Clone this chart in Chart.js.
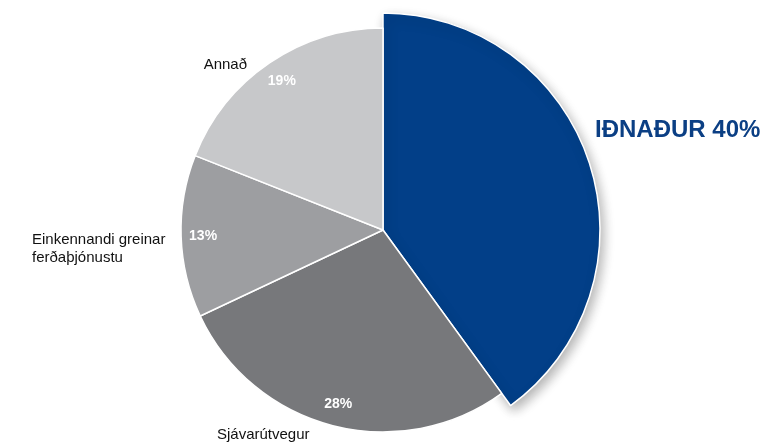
<!DOCTYPE html>
<html>
<head>
<meta charset="utf-8">
<script src="https://cdn.jsdelivr.net/npm/chart.js@4.4.1/dist/chart.umd.min.js"></script>
<style>
  html, body { margin: 0; padding: 0; background: #fff; }
  #wrap { width: 779px; height: 443px; }
</style>
</head>
<body>
<div id="wrap"><canvas id="myChart" width="779" height="443"></canvas></div>
<script>
const categories = ["Iðnaður", "Sjávarútvegur", "Einkennandi greinar ferðaþjónustu", "Annað"];
const shares = [40, 28, 13, 19];
const colors = ["#023f88", "#77787b", "#9d9ea1", "#c7c8ca"];

// where the outside names go (pixels), one per slice
const outside = [
    { lines: ["IÐNAÐUR 40%"], x: 595, y: 130, align: "left", font: "bold 24px 'Liberation Sans', Arial", color: "#0b3f84" },
    { lines: ["Sjávarútvegur"], x: 217, y: 435, align: "left", font: "15px 'Liberation Sans', Arial", color: "#111" },
    { lines: ["Einkennandi greinar", "ferðaþjónustu"], x: 32, y: 240, align: "left", font: "15px 'Liberation Sans', Arial", color: "#111" },
    { lines: ["Annað"], x: 247, y: 65, align: "right", font: "15px 'Liberation Sans', Arial", color: "#111" },
];

const sliceLabels = {
    id: "sliceLabels",
    afterDatasetUpdate(chart) {
        const meta = chart.getDatasetMeta(0);
        const big = meta.data[0];
        big.outerRadius = 217;
        if (!big._shadowed) {
            const orig = big.draw.bind(big);
            big.draw = function (ctx) {
                ctx.save();
                ctx.shadowColor = "rgba(0,0,0,0.3)";
                ctx.shadowBlur = 12;
                ctx.shadowOffsetX = 3;
                ctx.shadowOffsetY = 5;
                orig(ctx);
                ctx.restore();
            };
            big._shadowed = true;
        }
    },
    afterDatasetsDraw(chart) {
        const ctx = chart.ctx;
        const meta = chart.getDatasetMeta(0);
        ctx.save();
        ctx.textBaseline = "middle";
        meta.data.forEach((arc, i) => {
            if (i > 0) {
                const mid = (arc.startAngle + arc.endAngle) / 2;
                const r = 180;
                ctx.font = "bold 14px 'Liberation Sans', Arial";
                ctx.fillStyle = "#fff";
                ctx.textAlign = "center";
                ctx.fillText(shares[i] + "%", arc.x + Math.cos(mid) * r, arc.y + Math.sin(mid) * r);
            }
            const o = outside[i];
            ctx.font = o.font;
            ctx.fillStyle = o.color;
            ctx.textAlign = o.align;
            o.lines.forEach((t, k) => ctx.fillText(t, o.x, o.y + k * 18));
        });
        ctx.restore();
    }
};

const ctx = document.getElementById("myChart").getContext("2d");
const myChart = new Chart(ctx, {
    type: "pie",
    data: {
        labels: categories,
        datasets: [{
            data: shares,
            backgroundColor: colors,
            borderColor: "#fff",
            borderWidth: 1.5,
        }],
    },
    options: {
        responsive: false,
        animation: false,
        radius: 202,
        layout: { padding: { left: 0, right: 13, top: 17, bottom: 0 } },
        plugins: {
            legend: { display: false },
            tooltip: { enabled: false },
        },
    },
    plugins: [sliceLabels],
});
</script>
</body>
</html>
